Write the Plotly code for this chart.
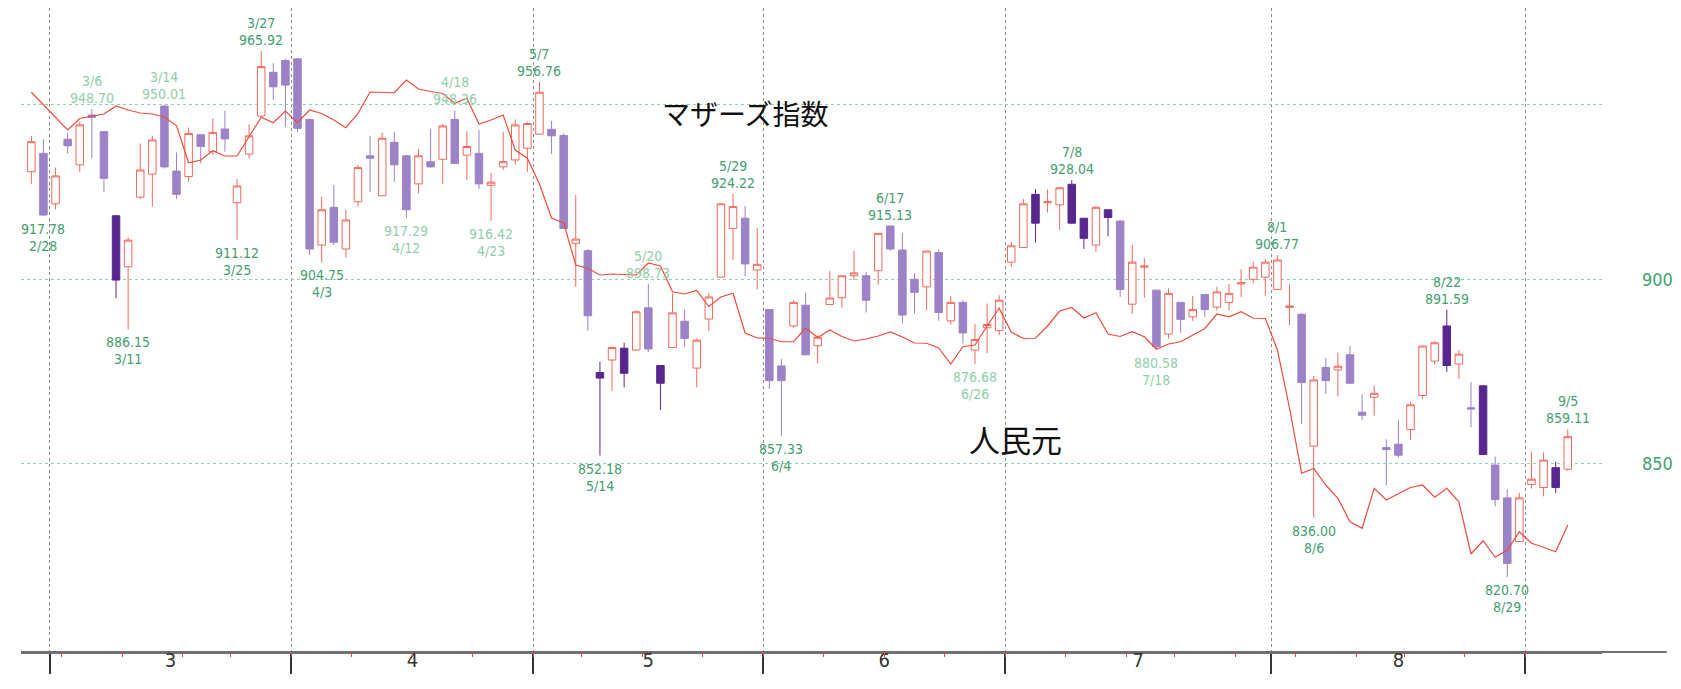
import math
from datetime import date
import plotly.graph_objects as go

# ---------------- data ----------------
dates = [
    "2019-02-27", "2019-02-28",
    "2019-03-01", "2019-03-04", "2019-03-05", "2019-03-06", "2019-03-07", "2019-03-08", "2019-03-11",
    "2019-03-12", "2019-03-13", "2019-03-14", "2019-03-15", "2019-03-18", "2019-03-19", "2019-03-20",
    "2019-03-22", "2019-03-25", "2019-03-26", "2019-03-27", "2019-03-28", "2019-03-29",
    "2019-04-01", "2019-04-02", "2019-04-03", "2019-04-04", "2019-04-05", "2019-04-08", "2019-04-09",
    "2019-04-10", "2019-04-11", "2019-04-12", "2019-04-15", "2019-04-16", "2019-04-17", "2019-04-18",
    "2019-04-19", "2019-04-22", "2019-04-23", "2019-04-24", "2019-04-25", "2019-04-26",
    "2019-05-07", "2019-05-08", "2019-05-09", "2019-05-10", "2019-05-13", "2019-05-14", "2019-05-15",
    "2019-05-16", "2019-05-17", "2019-05-20", "2019-05-21", "2019-05-22", "2019-05-23", "2019-05-24",
    "2019-05-27", "2019-05-28", "2019-05-29", "2019-05-30", "2019-05-31",
    "2019-06-03", "2019-06-04", "2019-06-05", "2019-06-06", "2019-06-07", "2019-06-10", "2019-06-11",
    "2019-06-12", "2019-06-13", "2019-06-14", "2019-06-17", "2019-06-18", "2019-06-19", "2019-06-20",
    "2019-06-21", "2019-06-24", "2019-06-25", "2019-06-26", "2019-06-27", "2019-06-28",
    "2019-07-01", "2019-07-02", "2019-07-03", "2019-07-04", "2019-07-05", "2019-07-08", "2019-07-09",
    "2019-07-10", "2019-07-11", "2019-07-12", "2019-07-16", "2019-07-17", "2019-07-18", "2019-07-19",
    "2019-07-22", "2019-07-23", "2019-07-24", "2019-07-25", "2019-07-26", "2019-07-29", "2019-07-30",
    "2019-07-31",
    "2019-08-01", "2019-08-02", "2019-08-05", "2019-08-06", "2019-08-07", "2019-08-08", "2019-08-09",
    "2019-08-13", "2019-08-14", "2019-08-15", "2019-08-16", "2019-08-19", "2019-08-20", "2019-08-21",
    "2019-08-22", "2019-08-23", "2019-08-26", "2019-08-27", "2019-08-28", "2019-08-29", "2019-08-30",
    "2019-09-02", "2019-09-03", "2019-09-04", "2019-09-05",
]

mothers_open = [
    930.5, 935.8, 921.3, 939.9, 932.5, 947.0, 942.1, 917.9, 903.5, 923.2,
    929.8, 949.6, 930.7, 929.1, 941.2, 936.3, 942.9, 921.6, 935.6, 946.7,
    959.6, 963.1, 963.6, 945.7, 909.6, 920.3, 908.5, 921.9, 935.1, 923.6,
    939.0, 935.1, 927.0, 933.4, 934.1, 945.7, 935.3, 935.8, 926.6, 931.9,
    933.9, 937.3, 941.4, 942.8, 941.0, 910.1, 908.0, 874.4, 877.8, 881.0,
    880.5, 892.1, 876.3, 881.2, 888.4, 875.6, 889.0, 900.6, 914.3, 917.2,
    902.6, 891.6, 876.2, 887.1, 892.8, 881.7, 893.0, 894.9, 901.0, 901.0,
    902.4, 915.0, 908.2, 900.0, 897.9, 907.5, 888.5, 893.6, 880.5, 886.6,
    885.8, 904.8, 908.9, 924.0, 921.6, 921.0, 926.9, 917.2, 909.6, 919.6,
    916.4, 893.1, 903.4, 897.0, 884.9, 893.6, 889.6, 895.8, 892.3, 893.6,
    898.7, 900.0, 900.6, 897.2, 892.2, 890.3, 854.7, 875.8, 875.1, 879.2,
    863.7, 867.7, 854.3, 855.2, 859.1, 868.2, 877.5, 887.1, 876.7, 864.9,
    870.8, 849.7, 841.1, 829.8, 844.6, 843.8, 849.0, 848.6,
]
mothers_high = [
    940.9, 939.9, 931.7, 941.8, 945.0, 948.70, 942.3, 918.1, 911.8, 938.7,
    940.9, 950.01, 936.1, 943.3, 941.3, 946.0, 948.2, 928.4, 944.3, 965.92,
    962.3, 963.6, 963.8, 945.9, 923.3, 926.7, 919.6, 932.5, 940.9, 941.8,
    942.1, 935.3, 937.1, 942.9, 944.3, 948.36, 942.3, 942.6, 930.2, 942.0,
    945.7, 945.0, 956.76, 945.3, 941.6, 923.8, 908.5, 877.3, 881.3, 882.5,
    891.4, 898.73, 876.4, 896.1, 891.6, 883.7, 896.2, 921.5, 924.22, 920.7,
    914.5, 891.7, 878.1, 894.2, 896.3, 884.6, 902.3, 901.1, 907.9, 902.1,
    913.0, 915.13, 913.0, 901.7, 908.0, 908.5, 895.4, 894.2, 887.6, 893.3,
    895.6, 910.5, 922.7, 925.5, 925.4, 926.0, 928.04, 917.3, 920.7, 919.7,
    916.5, 909.6, 905.9, 897.1, 897.5, 893.7, 895.4, 895.9, 897.9, 898.7,
    902.8, 904.9, 905.7, 906.77, 898.7, 890.7, 873.5, 878.4, 879.8, 881.6,
    868.5, 870.8, 856.5, 861.6, 866.5, 881.7, 883.0, 891.59, 880.5, 871.8,
    870.9, 851.9, 843.4, 842.4, 853.2, 853.0, 850.6, 859.11,
]
mothers_low = [
    927.0, 917.78, 919.7, 935.8, 930.5, 934.4, 924.6, 894.8, 886.15, 922.7,
    920.5, 931.4, 922.7, 927.6, 932.9, 935.3, 936.3, 911.12, 934.4, 946.5,
    951.4, 943.5, 942.1, 906.8, 904.75, 909.6, 906.1, 920.5, 924.6, 923.5,
    927.6, 917.29, 924.3, 931.7, 927.0, 932.8, 928.1, 925.5, 916.42, 931.0,
    932.5, 930.5, 941.2, 935.6, 914.2, 897.9, 885.8, 852.18, 869.4, 870.4,
    880.3, 879.9, 864.3, 881.1, 881.4, 870.4, 885.7, 900.5, 905.4, 900.9,
    897.2, 870.0, 857.33, 886.6, 879.1, 876.9, 892.9, 892.1, 899.8, 890.8,
    898.5, 908.0, 887.8, 890.5, 891.4, 888.5, 887.5, 882.3, 876.68, 879.6,
    884.6, 903.5, 908.8, 910.3, 918.8, 913.9, 915.5, 908.5, 907.7, 912.1,
    895.1, 890.4, 894.9, 880.58, 883.7, 885.2, 888.5, 889.6, 891.4, 891.4,
    895.1, 898.9, 895.4, 897.1, 887.3, 860.5, 836.00, 868.6, 867.9, 871.4,
    861.6, 862.8, 844.4, 851.7, 856.3, 867.2, 876.6, 874.6, 872.7, 859.7,
    852.4, 838.9, 820.70, 829.7, 843.5, 841.5, 842.4, 848.2,
]
mothers_close = [
    939.2, 918.1, 929.3, 938.0, 944.1, 946.3, 928.6, 899.8, 911.0, 931.0,
    939.7, 931.9, 924.0, 941.6, 937.8, 941.9, 940.0, 926.4, 940.9, 961.3,
    955.3, 955.8, 943.1, 908.5, 919.6, 910.4, 916.7, 931.7, 934.4, 940.2,
    932.5, 919.6, 935.1, 931.9, 943.8, 932.9, 937.8, 927.0, 927.5, 933.4,
    944.1, 944.5, 953.7, 940.9, 914.3, 911.3, 889.9, 872.9, 881.2, 874.2,
    891.0, 880.8, 871.5, 890.7, 883.7, 883.2, 895.1, 921.3, 920.5, 904.3,
    904.2, 872.2, 872.2, 893.6, 879.2, 884.0, 894.8, 901.0, 901.8, 894.2,
    912.9, 908.5, 890.1, 896.4, 907.9, 890.8, 893.6, 885.2, 883.4, 887.5,
    894.2, 909.4, 921.3, 915.8, 921.9, 925.9, 915.8, 911.5, 920.3, 917.4,
    897.2, 904.8, 903.7, 881.4, 896.1, 888.9, 891.6, 891.6, 896.5, 896.1,
    899.1, 903.4, 904.8, 905.4, 892.6, 871.7, 872.4, 872.2, 876.1, 871.5,
    862.9, 868.8, 853.8, 852.3, 865.7, 881.6, 882.5, 876.3, 879.4, 864.6,
    852.5, 840.7, 824.2, 841.1, 846.0, 851.0, 843.8, 857.2,
]

# 人民元 (CNY/JPY, yen per yuan)
yuan = [
    16.671, 16.622, 16.572, 16.520, 16.566, 16.576, 16.584, 16.616, 16.600, 16.588,
    16.584, 16.572, 16.537, 16.389, 16.400, 16.437, 16.416, 16.416, 16.491, 16.571,
    16.549, 16.596, 16.549, 16.600, 16.586, 16.560, 16.529, 16.586, 16.672, 16.671,
    16.669, 16.720, 16.684, 16.674, 16.666, 16.627, 16.647, 16.544, 16.560, 16.580,
    16.440, 16.407, 16.304, 16.168, 16.148, 15.980, 15.967, 15.940, 15.944, 15.942,
    15.940, 15.988, 15.976, 15.873, 15.864, 15.878, 15.814, 15.852, 15.867, 15.708,
    15.688, 15.687, 15.673, 15.673, 15.728, 15.690, 15.720, 15.694, 15.676, 15.684,
    15.696, 15.712, 15.692, 15.668, 15.667, 15.648, 15.584, 15.653, 15.660, 15.736,
    15.807, 15.712, 15.686, 15.687, 15.736, 15.796, 15.810, 15.768, 15.789, 15.704,
    15.694, 15.713, 15.693, 15.643, 15.664, 15.673, 15.700, 15.726, 15.784, 15.773,
    15.793, 15.767, 15.766, 15.640, 15.408, 15.147, 15.166, 15.100, 15.047, 14.953,
    14.927, 15.087, 15.040, 15.064, 15.090, 15.100, 15.051, 15.087, 15.033, 14.824,
    14.877, 14.811, 14.840, 14.913, 14.867, 14.851, 14.833, 14.940,
]

month_tick_labels = ["3", "4", "5", "6", "7", "8"]
price_ticks = [850, 900, 950]
price_tick_labels = ["850", "900", ""]

high_label_dates = ["2019-03-06", "2019-03-14", "2019-03-27", "2019-04-18", "2019-05-07", "2019-05-20",
                    "2019-05-29", "2019-06-17", "2019-07-08", "2019-08-01", "2019-08-22", "2019-09-05"]
low_label_dates = ["2019-02-28", "2019-03-11", "2019-03-25", "2019-04-03", "2019-04-12", "2019-04-23",
                   "2019-05-14", "2019-06-04", "2019-06-26", "2019-07-18", "2019-08-06", "2019-08-29"]

# ---------------- styles ----------------
dark_candle_dates = {"2019-03-08", "2019-05-14", "2019-05-16", "2019-05-21", "2019-07-03", "2019-07-08",
                     "2019-07-09", "2019-07-11", "2019-08-22", "2019-08-27", "2019-09-04"}
pale_label_dates = {"2019-03-06", "2019-03-14", "2019-04-12", "2019-04-18", "2019-04-23", "2019-05-20",
                    "2019-06-26", "2019-07-18"}

UP = "#f26a5c"
DOWN = "#9c82c6"
DOWN_DARK = "#58268f"
LINE_RED = "#f04a3a"
GREEN = "#43a06f"
GREEN_PALE = "#8fcfa9"
NARROW = "DejaVu Sans Condensed, Liberation Sans Narrow, Liberation Sans, sans-serif"
CJK = "Noto Sans CJK JP, Noto Sans CJK SC, sans-serif"
LABEL_SIZE = 14
LINE_GAP = 17

# ---------------- derived positions ----------------
d = [date.fromisoformat(s) for s in dates]
idx = list(range(len(dates)))
month_div = [i - 0.5 for i in range(1, len(d)) if d[i].month != d[i - 1].month]
week_div = [i - 0.5 for i in range(1, len(d)) if d[i].isocalendar()[1] != d[i - 1].isocalendar()[1]]
month_centers = []
for lab in month_tick_labels:
    ii = [i for i, x in enumerate(d) if x.month == int(lab)]
    month_centers.append((ii[0] + ii[-1]) / 2)

xr = [-0.856, 129.83]

fig = go.Figure()


def sub(arr, ids):
    return [arr[i] for i in ids]


light_ids = [i for i in idx if dates[i] not in dark_candle_dates]
dark_ids = [i for i in idx if dates[i] in dark_candle_dates]

fig.add_trace(go.Candlestick(
    x=light_ids, open=sub(mothers_open, light_ids), high=sub(mothers_high, light_ids),
    low=sub(mothers_low, light_ids), close=sub(mothers_close, light_ids),
    increasing=dict(line=dict(color=UP, width=1), fillcolor="white"),
    decreasing=dict(line=dict(color=DOWN, width=1), fillcolor=DOWN),
    whiskerwidth=0, showlegend=False, name="マザーズ指数",
))
fig.add_trace(go.Candlestick(
    x=dark_ids, open=sub(mothers_open, dark_ids), high=sub(mothers_high, dark_ids),
    low=sub(mothers_low, dark_ids), close=sub(mothers_close, dark_ids),
    increasing=dict(line=dict(color=UP, width=1), fillcolor="white"),
    decreasing=dict(line=dict(color=DOWN_DARK, width=1), fillcolor=DOWN_DARK),
    whiskerwidth=0, showlegend=False, name="マザーズ指数",
))
fig.add_trace(go.Scatter(
    x=idx, y=yuan, xaxis="x2", yaxis="y2", mode="lines",
    line=dict(color=LINE_RED, width=1.2), showlegend=False, name="人民元",
))

# high / low labels
for dt in high_label_dates:
    i = dates.index(dt)
    v = mothers_high[i]
    col = GREEN_PALE if dt in pale_label_dates else GREEN
    f = dict(family=NARROW, size=LABEL_SIZE, color=col)
    fig.add_annotation(x=i, y=math.log10(v), text=f"{v:.2f}", showarrow=False,
                       yanchor="bottom", yshift=2, font=f, borderpad=0)
    fig.add_annotation(x=i, y=math.log10(v), text=f"{d[i].month}/{d[i].day}", showarrow=False,
                       yanchor="bottom", yshift=2 + LINE_GAP, font=f, borderpad=0)
for dt in low_label_dates:
    i = dates.index(dt)
    v = mothers_low[i]
    col = GREEN_PALE if dt in pale_label_dates else GREEN
    f = dict(family=NARROW, size=LABEL_SIZE, color=col)
    fig.add_annotation(x=i, y=math.log10(v), text=f"{v:.2f}", showarrow=False,
                       yanchor="top", yshift=-4, font=f, borderpad=0)
    fig.add_annotation(x=i, y=math.log10(v), text=f"{d[i].month}/{d[i].day}", showarrow=False,
                       yanchor="top", yshift=-4 - LINE_GAP, font=f, borderpad=0)

fig.add_annotation(xref="paper", yref="paper", x=0.458, y=0.837, xanchor="center", yanchor="middle",
                   text="マザーズ指数", showarrow=False, font=dict(family=CJK, size=28, color="#111"))
fig.add_annotation(xref="paper", yref="paper", x=0.629, y=0.332, xanchor="center", yanchor="middle",
                   text="人民元", showarrow=False, font=dict(family=CJK, size=31, color="#111"))

# bottom axis line continues to the right edge of the picture
fig.add_shape(type="line", xref="paper", yref="paper", x0=0, x1=1.041, y0=0, y1=0,
              line=dict(color="#707070", width=2))

fig.update_layout(
    width=1665, height=673,
    margin=dict(l=13, r=65, t=0, b=29),
    paper_bgcolor="white", plot_bgcolor="white",
    showlegend=False, boxgap=0.38, boxgroupgap=0,
    xaxis=dict(
        range=xr, tickmode="array", tickvals=month_centers, ticktext=month_tick_labels,
        ticks="", showgrid=False, zeroline=False, showline=True, linecolor="#707070", linewidth=2,
        tickfont=dict(family=NARROW, size=20, color="#333"), ticklabelstandoff=-11,
        rangeslider=dict(visible=False),
        minor=dict(tickmode="array", tickvals=month_div, ticks="outside", ticklen=20, tickwidth=1.5,
                   tickcolor="#333", showgrid=True, gridcolor="#8a8a8a", griddash="dot", gridwidth=1),
    ),
    xaxis2=dict(
        overlaying="x", anchor="y", side="bottom", range=xr, tickmode="array", tickvals=week_div,
        ticks="outside", ticklen=4, tickwidth=1, tickcolor="#ff3b3b", showticklabels=False,
        showgrid=False, zeroline=False, showline=False,
    ),
    yaxis=dict(
        type="log", range=[math.log10(801.9), math.log10(978.9)], tickmode="array",
        tickvals=price_ticks, ticktext=price_tick_labels, side="right", ticks="",
        showgrid=True, gridcolor="#8fd3ad", griddash="dot", gridwidth=1, zeroline=False, showline=False,
        tickfont=dict(family=NARROW, size=18, color=GREEN), ticklabelstandoff=39,
    ),
    yaxis2=dict(overlaying="y", range=[14.432, 17.008], visible=False),
)

fig.write_html("out.html", config={"displayModeBar": False})
